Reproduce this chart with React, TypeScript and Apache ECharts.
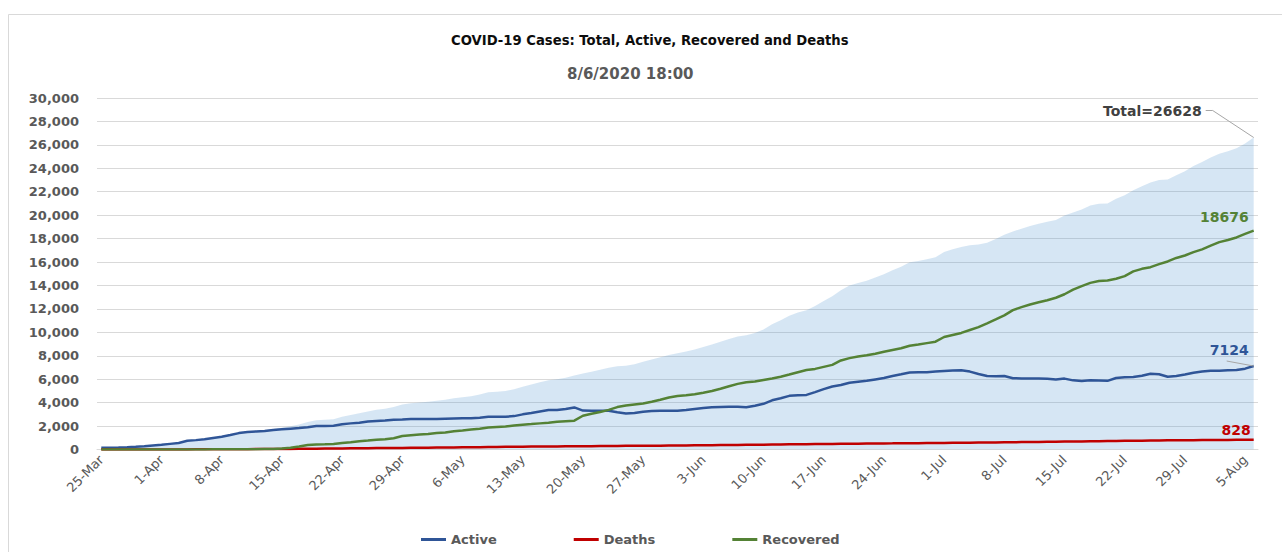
import React, { useEffect, useRef } from "react";
import * as echarts from "echarts";

const monthSpans: [string, number, number][] = [
  ["Mar", 25, 31],
  ["Apr", 1, 30],
  ["May", 1, 31],
  ["Jun", 1, 30],
  ["Jul", 1, 31],
  ["Aug", 1, 6],
];
const categories: string[] = [];
monthSpans.forEach(([m, a, b]) => {
  for (let d = a; d <= b; d++) categories.push(`${d}-${m}`);
});

const active = [
  145, 155, 175, 200, 230, 270, 340, 400, 480, 560,
  740, 800, 880, 990, 1080, 1230, 1400, 1490, 1540, 1580,
  1660, 1720, 1780, 1830, 1900, 2000, 2010, 2030, 2150, 2230,
  2290, 2380, 2430, 2480, 2540, 2560, 2600, 2600, 2600, 2600,
  2620, 2640, 2660, 2660, 2720, 2790, 2800, 2800, 2850, 3000,
  3120, 3250, 3370, 3370, 3450, 3590, 3320, 3300, 3310, 3300,
  3180, 3080, 3120, 3230, 3280, 3300, 3300, 3310, 3380, 3460,
  3540, 3600, 3630, 3650, 3640, 3600, 3740, 3900, 4200, 4380,
  4580, 4640, 4660, 4900, 5150, 5380, 5500, 5700, 5780, 5860,
  5980, 6100, 6270, 6420, 6580, 6590, 6600, 6650, 6700, 6740,
  6760, 6650, 6450, 6270, 6260, 6270, 6080, 6070, 6060, 6060,
  6040, 5980, 6050, 5900, 5850, 5900, 5880, 5860, 6100, 6170,
  6190, 6300, 6470, 6420, 6210, 6280, 6400, 6550, 6650, 6720,
  6730, 6760, 6780, 6900, 7124,
];

const deaths = [
  1, 1, 1, 2, 2, 3, 4, 5, 6, 8,
  10, 12, 14, 16, 19, 23, 26, 29, 33, 38,
  42, 47, 53, 60, 67, 74, 81, 88, 94, 100,
  106, 112, 118, 124, 130, 136, 142, 148, 154, 161,
  168, 176, 184, 192, 201, 210, 219, 232, 238, 244,
  250, 256, 261, 266, 271, 276, 281, 287, 294, 300,
  305, 310, 315, 320, 325, 330, 336, 342, 349, 356,
  363, 370, 378, 386, 394, 401, 408, 415, 423, 431,
  438, 445, 452, 461, 470, 478, 485, 492, 499, 505,
  511, 517, 523, 530, 537, 544, 551, 557, 562, 570,
  578, 586, 593, 600, 607, 614, 622, 630, 639, 648,
  657, 666, 675, 684, 693, 702, 711, 720, 729, 738,
  747, 755, 763, 771, 779, 786, 793, 799, 805, 810,
  814, 818, 822, 825, 828,
];

const recovered = [
  0, 0, 0, 0, 1, 1, 2, 3, 4, 5,
  6, 8, 10, 12, 15, 18, 22, 26, 30, 35,
  40, 90, 150, 250, 380, 420, 440, 470, 550, 620,
  700, 760, 840, 880, 960, 1150, 1210, 1270, 1320, 1400,
  1460, 1560, 1620, 1700, 1770, 1880, 1920, 1960, 2050, 2120,
  2170, 2230, 2290, 2360, 2410, 2460, 2880, 3050, 3200, 3380,
  3620, 3760, 3850, 3930, 4080, 4250, 4440, 4560, 4630, 4720,
  4850, 4990, 5180, 5400, 5600, 5740, 5800, 5930, 6060, 6210,
  6400, 6600, 6780, 6880, 7050, 7220, 7600, 7800, 7930, 8040,
  8180, 8350, 8500, 8640, 8860, 8960, 9080, 9200, 9600, 9780,
  9950, 10200, 10450, 10770, 11100, 11450, 11900, 12150, 12380, 12560,
  12740, 12950, 13250, 13650, 13950, 14220, 14380, 14420, 14570, 14800,
  15200, 15420, 15560, 15820, 16050, 16350, 16560, 16850, 17080, 17400,
  17700, 17880, 18100, 18400, 18676,
];

// Total = Active + Deaths + Recovered (as in the source table)
const total = active.map((a, i) => a + deaths[i] + recovered[i]);

const FONT = "DejaVu Sans";
const GRAY = "#595959";
const LEADER = "#a6a6a6";

function withEndLabel(arr: number[]) {
  return arr.map((v, i) =>
    i === arr.length - 1 ? { value: v, label: { show: true } } : v
  );
}

function endLabel(color: string, extra: any = {}) {
  return {
    show: false,
    position: "left",
    distance: 5,
    color,
    opacity: 1,
    fontSize: 14,
    fontWeight: "bold",
    fontFamily: FONT,
    ...extra,
  };
}

const hiddenSymbols = {
  symbol: "circle",
  symbolSize: 0,
  showSymbol: true,
  showAllSymbol: true,
  emphasis: { disabled: true },
};

const TOTAL_DX = -47;
const TOTAL_DY = -27;
const ACTIVE_DY = -16;

export default function App() {
  const ref = useRef<HTMLDivElement>(null);
  useEffect(() => {
    if (!ref.current) return;
    const chart = echarts.init(ref.current, undefined, { renderer: "svg" });
    chart.setOption({
      animation: false,
      backgroundColor: "#ffffff",
      textStyle: { fontFamily: FONT },
      title: [
        {
          text: "COVID-19 Cases: Total, Active, Recovered and Deaths",
          left: 451,
          top: 34,
          padding: 0,
          textStyle: { fontFamily: FONT, fontSize: 13.2, fontWeight: "bold", color: "#0d0d0d" },
        },
        {
          text: "8/6/2020 18:00",
          left: 567,
          top: 66,
          padding: 0,
          textStyle: { fontFamily: FONT, fontSize: 15, fontWeight: "bold", color: GRAY },
        },
      ],
      legend: {
        data: ["Active", "Deaths", "Recovered"],
        left: 421,
        top: 533,
        padding: 0,
        icon: "rect",
        itemWidth: 25,
        itemHeight: 3,
        itemGap: 77,
        textStyle: { fontFamily: FONT, fontSize: 13, fontWeight: "bold", color: GRAY },
      },
      grid: { left: 97, right: 24, top: 98, bottom: 102.5, containLabel: false },
      xAxis: {
        type: "category",
        data: categories,
        boundaryGap: true,
        axisLine: { lineStyle: { color: "#d9d9d9", width: 1 } },
        axisTick: { interval: 6, length: 5, lineStyle: { color: "#d9d9d9" } },
        axisLabel: { interval: 6, rotate: 45, color: GRAY, fontSize: 13, margin: 8, fontFamily: FONT },
      },
      yAxis: {
        type: "value",
        min: 0,
        max: 30000,
        interval: 2000,
        axisLine: { show: false },
        axisTick: { show: false },
        splitLine: { lineStyle: { color: "#d9d9d9", width: 1 } },
        axisLabel: {
          color: GRAY,
          fontSize: 13,
          fontWeight: "bold",
          margin: 18,
          fontFamily: FONT,
          formatter: (v: number) => v.toLocaleString("en-US"),
        },
      },
      series: [
        {
          name: "Total",
          type: "line",
          data: withEndLabel(total),
          ...hiddenSymbols,
          color: "rgba(91,155,213,0.25)",
          lineStyle: { width: 0 },
          areaStyle: { color: "rgba(91,155,213,0.25)", opacity: 1 },
          z: 1,
          label: endLabel("#404040", { formatter: (p: any) => `Total=${p.value}` }),
          labelLayout: { dx: TOTAL_DX, dy: TOTAL_DY },
        },
        {
          name: "Active",
          type: "line",
          data: withEndLabel(active),
          ...hiddenSymbols,
          color: "#2F5597",
          lineStyle: { width: 2.5, color: "#2F5597" },
          z: 3,
          label: endLabel("#2F5597"),
          labelLayout: { dy: ACTIVE_DY },
        },
        {
          name: "Deaths",
          type: "line",
          data: withEndLabel(deaths),
          ...hiddenSymbols,
          color: "#C00000",
          lineStyle: { width: 2.5, color: "#C00000" },
          z: 3,
          label: endLabel("#C00000"),
          labelLayout: { dx: 2, dy: -10 },
        },
        {
          name: "Recovered",
          type: "line",
          data: withEndLabel(recovered),
          ...hiddenSymbols,
          color: "#548235",
          lineStyle: { width: 2.5, color: "#548235" },
          z: 3,
          label: endLabel("#548235"),
          labelLayout: { dy: -14 },
        },
      ],
    });

    // leader lines, anchored on the last data points through the chart's own scales
    const last = categories.length - 1;
    const pt = chart.convertToPixel({ gridIndex: 0 }, [last, total[last]]) as number[];
    const pa = chart.convertToPixel({ gridIndex: 0 }, [last, active[last]]) as number[];
    const totalLabelRight = pt[0] - 5 + TOTAL_DX;
    const totalLabelY = pt[1] + TOTAL_DY;
    chart.setOption({
      graphic: [
        {
          type: "rect",
          shape: { x: 8.5, y: 14.5, width: 1300, height: 600 },
          style: { fill: "none", stroke: "#d9d9d9", lineWidth: 1 },
          silent: true,
        },
        {
          type: "polyline",
          shape: {
            points: [
              [totalLabelRight + 4, totalLabelY],
              [totalLabelRight + 11, totalLabelY],
              [pt[0], pt[1]],
            ],
          },
          style: { fill: "none", stroke: LEADER, lineWidth: 1 },
          silent: true,
          z: 10,
        },
        {
          type: "line",
          shape: { x1: pa[0] - 27, y1: pa[1] + ACTIVE_DY + 11, x2: pa[0], y2: pa[1] },
          style: { stroke: LEADER, lineWidth: 1 },
          silent: true,
          z: 10,
        },
      ],
    });
    return () => chart.dispose();
  }, []);
  return (
    <div
      ref={ref}
      style={{ position: "fixed", left: 0, top: 0, width: 1282, height: 552 }}
    />
  );
}
